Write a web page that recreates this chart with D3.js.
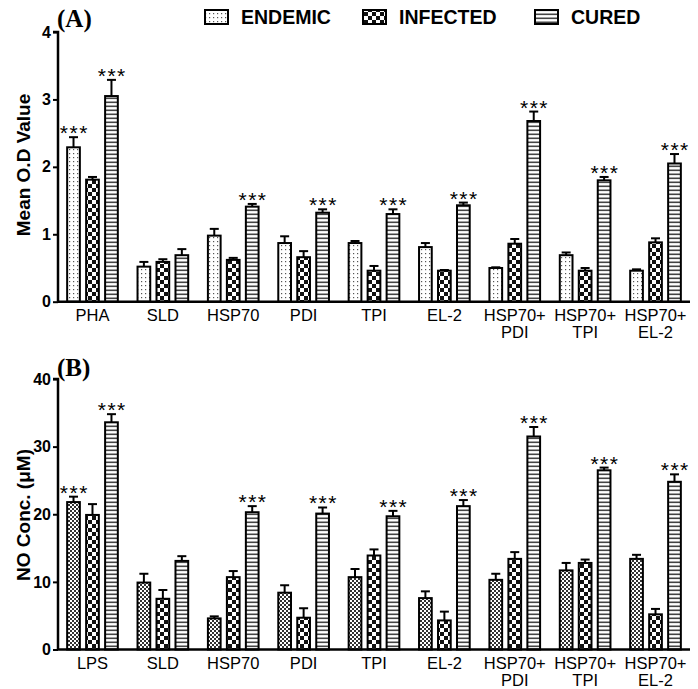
<!DOCTYPE html>
<html><head><meta charset="utf-8">
<script src="https://cdn.jsdelivr.net/npm/d3@7"></script>
<style>body{margin:0;background:#fff}svg{display:block}</style>
</head><body>
<svg id="c" width="698" height="689"></svg>
<script>
const seriesNames = ["ENDEMIC", "INFECTED", "CURED"];
const categoriesA = ["PHA", "SLD", "HSP70", "PDI", "TPI", "EL-2", "HSP70+\nPDI", "HSP70+\nTPI", "HSP70+\nEL-2"];
const categoriesB = ["LPS", "SLD", "HSP70", "PDI", "TPI", "EL-2", "HSP70+\nPDI", "HSP70+\nTPI", "HSP70+\nEL-2"];
const endemicA  = [2.29, 0.52, 0.98, 0.87, 0.87, 0.81, 0.50, 0.69, 0.46];
const endemicAErr = [0.15, 0.07, 0.10, 0.10, 0.03, 0.06, 0.01, 0.04, 0.02];
const infectedA = [1.81, 0.59, 0.62, 0.66, 0.46, 0.46, 0.86, 0.46, 0.88];
const infectedAErr = [0.04, 0.04, 0.03, 0.09, 0.07, 0.01, 0.07, 0.04, 0.06];
const curedA    = [3.05, 0.69, 1.41, 1.32, 1.30, 1.43, 2.68, 1.80, 2.05];
const curedAErr = [0.24, 0.09, 0.04, 0.05, 0.07, 0.04, 0.14, 0.05, 0.14];
const endemicB  = [21.8, 9.9, 4.6, 8.4, 10.7, 7.6, 10.3, 11.7, 13.4];
const endemicBErr = [0.8, 1.3, 0.3, 1.1, 1.2, 1.0, 0.9, 1.1, 0.6];
const infectedB = [19.9, 7.5, 10.7, 4.7, 13.9, 4.3, 13.4, 12.8, 5.2];
const infectedBErr = [1.6, 1.3, 0.9, 1.4, 0.9, 1.3, 1.0, 0.5, 0.8];
const curedB    = [33.6, 13.1, 20.3, 20.1, 19.7, 21.2, 31.5, 26.5, 24.8];
const curedBErr = [1.2, 0.7, 0.9, 0.9, 0.8, 0.9, 1.4, 0.4, 1.1];
const ticksA = [0, 1, 2, 3, 4];
const ticksB = [0, 10, 20, 30, 40];
// significance flags: [endemic, infected, cured]
const starsA = [[1,0,1],[0,0,0],[0,0,1],[0,0,1],[0,0,1],[0,0,1],[0,0,1],[0,0,1],[0,0,1]];
const starsB = [[1,0,1],[0,0,0],[0,0,1],[0,0,1],[0,0,1],[0,0,1],[0,0,1],[0,0,1],[0,0,1]];

const svg = d3.select("#c");
const defs = svg.append("defs");
const SANS = "Liberation Sans, Arial, sans-serif";

function pat(id, w, h, draw) {
  const p = defs.append("pattern").attr("id", id).attr("patternUnits", "userSpaceOnUse")
    .attr("width", w).attr("height", h);
  p.append("rect").attr("width", w).attr("height", h).attr("fill", "#fff");
  draw(p);
}
pat("dots", 4, 4, p => { p.append("rect").attr("x", 1).attr("y", 1).attr("width", 1.2).attr("height", 1.2).attr("fill", "#555"); });
pat("checker", 8, 8, p => {
  p.append("rect").attr("x", 0).attr("y", 0).attr("width", 4).attr("height", 4).attr("fill", "#111");
  p.append("rect").attr("x", 4).attr("y", 4).attr("width", 4).attr("height", 4).attr("fill", "#111");
});
pat("finecheck", 4, 4, p => {
  p.append("rect").attr("x", 0).attr("y", 0).attr("width", 2).attr("height", 2).attr("fill", "#333");
  p.append("rect").attr("x", 2).attr("y", 2).attr("width", 2).attr("height", 2).attr("fill", "#333");
});
pat("hlines", 4, 4, p => { p.append("rect").attr("x", 0).attr("y", 1.5).attr("width", 4).attr("height", 1.6).attr("fill", "#444"); });

const xL = 58, xR = 690;

function panel(cfg) {
  const { cats, vals, errs, stars, ticks, ymax, y0, y1, fills, label, title, titleY, labelY } = cfg;
  const g = svg.append("g");
  const x = d3.scaleBand().domain(cats.map((d, i) => i)).range([xL, xR]).paddingInner(0.28).paddingOuter(0.13);
  const xs = d3.scaleBand().domain([0, 1, 2]).range([0, x.bandwidth()]).paddingInner(0.33).paddingOuter(0);
  const y = d3.scaleLinear().domain([0, ymax]).range([y0, y1]);

  cats.forEach((c, i) => {
    [0, 1, 2].forEach(s => {
      const v = vals[s][i], e = errs[s][i];
      const bx = x(i) + xs(s), bw = xs.bandwidth(), cx = bx + bw / 2;
      g.append("line").attr("x1", cx).attr("x2", cx).attr("y1", y(v)).attr("y2", y(v + e))
        .attr("stroke", "#000").attr("stroke-width", 2);
      g.append("line").attr("x1", cx - 4.5).attr("x2", cx + 4.5).attr("y1", y(v + e)).attr("y2", y(v + e))
        .attr("stroke", "#000").attr("stroke-width", 2);
      g.append("rect").attr("x", bx).attr("y", y(v)).attr("width", bw).attr("height", y(0) - y(v))
        .attr("fill", `url(#${fills[s]})`).attr("stroke", "#000").attr("stroke-width", 2);
      if (stars[i][s]) {
        g.append("text").attr("x", cx + 0.8).attr("y", y(v + e) + 3).attr("text-anchor", "middle")
          .attr("font-family", SANS).attr("font-size", 21).attr("letter-spacing", 1.5)
          .attr("fill", "#000").text("***");
      }
    });
  });

  const ya = g.append("g").attr("transform", `translate(${xL},0)`)
    .call(d3.axisLeft(y).tickValues(ticks).tickSize(5).tickPadding(2).tickFormat(d3.format("d")));
  ya.select(".domain").attr("stroke-width", 2.5).attr("d", `M-5,${y(ymax)}H0V${y(0)}`);
  ya.selectAll(".tick line").attr("stroke-width", 2);
  ya.selectAll(".tick text").attr("font-family", SANS)
    .attr("font-weight", "bold").attr("font-size", 16).attr("fill", "#000");
  const xa = g.append("g").attr("transform", `translate(0,${y(0)})`)
    .call(d3.axisBottom(x).tickSize(0).tickFormat(""));
  xa.select(".domain").attr("stroke-width", 2.5).attr("d", `M${xL},0H${xR}`);
  xa.selectAll(".tick").each(function (d) {
    const lines = cats[d].split("\n");
    const t = d3.select(this).append("text").attr("fill", "#000")
      .attr("font-family", SANS).attr("font-size", 16.5).attr("text-anchor", "middle");
    lines.forEach((l, k) => t.append("tspan").attr("x", 0).attr("y", 19 + k * 17).text(l));
  });

  g.append("text").attr("x", 57).attr("y", labelY).attr("font-family", "Liberation Serif, Times New Roman, serif")
    .attr("font-weight", "bold").attr("font-size", 25).attr("fill", "#000").text(label);
  g.append("text").attr("transform", `translate(30,${titleY}) rotate(-90)`).attr("text-anchor", "middle")
    .attr("font-family", SANS).attr("font-weight", "bold").attr("font-size", 19)
    .attr("fill", "#000").text(title);
}

panel({ cats: categoriesA, vals: [endemicA, infectedA, curedA], errs: [endemicAErr, infectedAErr, curedAErr],
  stars: starsA, ticks: ticksA, ymax: 4, y0: 301.7, y1: 32, fills: ["dots", "checker", "hlines"],
  label: "(A)", title: "Mean O.D Value", titleY: 165, labelY: 27 });
panel({ cats: categoriesB, vals: [endemicB, infectedB, curedB], errs: [endemicBErr, infectedBErr, curedBErr],
  stars: starsB, ticks: ticksB, ymax: 40, y0: 649.5, y1: 379, fills: ["finecheck", "checker", "hlines"],
  label: "(B)", title: "NO Conc. (\u03bcM)", titleY: 515, labelY: 376 });

const legX = [205, 363, 535];
const legFill = ["dots", "checker", "hlines"];
seriesNames.forEach((n, i) => {
  svg.append("rect").attr("x", legX[i]).attr("y", 10).attr("width", 23).attr("height", 14)
    .attr("fill", `url(#${legFill[i]})`).attr("stroke", "#000").attr("stroke-width", 2);
  svg.append("text").attr("x", legX[i] + 36).attr("y", 24).attr("font-family", SANS)
    .attr("font-weight", "bold").attr("font-size", 19.5).attr("fill", "#000").text(n);
});
</script>
</body></html>
